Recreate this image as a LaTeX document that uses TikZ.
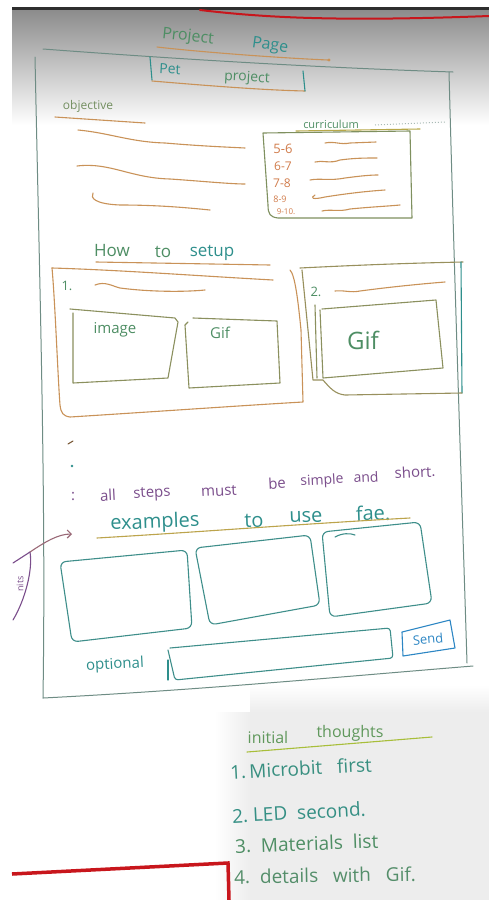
\documentclass[tikz,border=0pt]{standalone}
\usepackage{fontspec}
\setmainfont{Open Sans}
\usetikzlibrary{arrows.meta}
\definecolor{framegray}{HTML}{6E8C84}
\definecolor{inkbrown}{HTML}{C99258}
\definecolor{inkgreen}{HTML}{4E8E64}
\definecolor{inkteal}{HTML}{2E8F8C}
\definecolor{inkpurple}{HTML}{7B4E8C}
\definecolor{inkblue}{HTML}{2C86C4}
\definecolor{inkred}{HTML}{C8161C}
\definecolor{inkolive}{HTML}{A8BE3A}
\definecolor{bandgray}{HTML}{2E2E2E}
\newcommand\fsz[1]{\fontsize{#1}{#1}\selectfont}
\begin{document}
\begin{tikzpicture}[x=1pt,y=-1pt,
  pen/.style={line width=1.1pt, line cap=round, line join=round},
  frameline/.style={pen, draw=framegray, line width=1pt},
  brownline/.style={pen, draw=inkbrown},
  hand/.style={inner sep=0pt, text=#1},
  listitem/.style={inner sep=0pt, anchor=west, font=\fsz{19}},
  tealbox/.style={pen, draw=inkteal!75!framegray, rounded corners=6pt}]
\useasboundingbox (0,0) rectangle (489,900);
\fill[white] (0,0) rectangle (489,900);

% scanned paper: dark strip and shadow at the top, grey patch at the bottom
\fill[bandgray] (12,7) rectangle (489,10);
\shade[top color=black!45, bottom color=white] (12,10) rectangle (489,125);
\fill[black!7] (250,712) rectangle (489,900);
\shade[left color=white, right color=black!7] (215,712) rectangle (250,900);
\shade[top color=white, bottom color=black!7] (250,685) rectangle (489,712);
\draw[inkred, line width=2pt, line cap=round] (200,10) .. controls (260,17) and (330,22) .. (489,16);

% outer page frame
\draw[frameline] (43,49) .. controls (150,57) and (300,67) .. (453,72);
\draw[frameline] (35,57) .. controls (40,300) and (46,500) .. (43,698);
\draw[frameline] (449,72) .. controls (455,300) and (462,500) .. (467,663);
\draw[frameline] (43,698) .. controls (200,690) and (350,676) .. (473,666);

% title
\node[hand=inkgreen, font=\fsz{16}, rotate=-6] (titleA) at (188,37) {Project};
\node[hand=inkteal, font=\fsz{16}, rotate=-8] (titleB) at (270,46) {Page};
\draw[brownline] (157,47) .. controls (200,52) and (280,58) .. (328,60);
\fill[inkbrown] (329,60) circle (1.6);

% project tab
\draw[pen, draw=inkteal] (150,57) -- (152,80);
\draw[brownline] (152,81) .. controls (200,85) and (260,90) .. (305,91);
\draw[pen, draw=inkteal] (303,71) -- (305,91);
\node[hand=inkteal, font=\fsz{14}, rotate=-3] (pet) at (170,69) {Pet};
\node[hand=inkgreen, font=\fsz{14}, rotate=-3] (petproj) at (247,78) {project};

% objective
\node[hand=inkgreen!70!inkbrown, font=\fsz{12}] (objective) at (88,106) {objective};
\draw[brownline] (55,117) -- (145,123);
\draw[brownline] (78,130) .. controls (110,133) and (130,142) .. (165,143) .. controls (200,146) and (225,147) .. (245,148);
\draw[brownline] (77,166) .. controls (110,162) and (130,178) .. (170,179) .. controls (200,181) and (230,184) .. (245,184);
\draw[brownline] (93,193) .. controls (90,198) and (95,204) .. (120,205) .. controls (160,205) and (190,208) .. (210,210);

% curriculum
\node[hand=inkgreen, font=\fsz{11}] (curr) at (331,124) {curriculum};
\draw[framegray!60, dotted, line width=1pt] (375,125) -- (445,122);
\draw[pen, draw=inkolive!50!inkbrown] (296,131) -- (420,129);
\draw[pen, draw=inkgreen!60!inkbrown] (263,133) -- (410,131) -- (412,218) -- (278,218) .. controls (270,217) and (268,214) .. (268,205) -- cycle;
\node[hand=inkbrown!85!red, font=\fsz{13}] (r1) at (283,149) {5-6};
\node[hand=inkbrown!85!red, font=\fsz{12}] (r2) at (283,166) {6-7};
\node[hand=inkbrown!85!red, font=\fsz{12}] (r3) at (282,183) {7-8};
\node[hand=inkbrown!85!red, font=\fsz{9}] (r4) at (280,199) {8-9};
\node[hand=inkbrown!85!red, font=\fsz{8}] (r5) at (286,212) {9-10.};
\draw[brownline] (325,143) .. controls (335,141) and (340,145) .. (350,143) -- (376,142);
\draw[brownline] (315,162) .. controls (322,160) and (330,164) .. (340,160) .. controls (355,158) and (365,158) .. (377,158);
\draw[brownline] (310,180) .. controls (320,178) and (330,181) .. (345,178) .. controls (360,176) and (370,175) .. (378,175);
\draw[brownline] (315,195) .. controls (310,198) and (312,200) .. (325,197) .. controls (350,193) and (370,191) .. (385,190);
\draw[brownline] (322,211) .. controls (330,209) and (340,212) .. (350,209) .. controls (370,207) and (390,206) .. (400,205);

% how to setup
\node[hand=inkgreen, font=\fsz{17}] (how) at (112,251) {How};
\node[hand=inkgreen, font=\fsz{17}] (howto) at (163,252) {to};
\node[hand=inkteal, font=\fsz{17}] (howsetup) at (212,253) {setup};
\draw[brownline] (96,262) -- (270,265);

% step 1 panel
\draw[brownline] (52,268) .. controls (120,270) and (200,276) .. (273,280);
\draw[brownline] (52,268) .. controls (55,300) and (58,380) .. (60,405) .. controls (61,413) and (63,416) .. (70,417) .. controls (150,412) and (250,405) .. (303,402) -- (301,330) .. controls (298,300) and (295,275) .. (290,270);
\node[hand=inkgreen, font=\fsz{13}] (one) at (67,286) {1.};
\draw[brownline] (95,285) .. controls (105,281) and (112,286) .. (120,288) .. controls (150,292) and (185,292) .. (205,290);
\draw[pen, draw=inkgreen!50!inkbrown] (70,309) -- (175,318) -- (178,322) -- (168,378) -- (73,383) -- (73,313);
\node[hand=inkgreen, font=\fsz{15}] (imagelbl) at (115,330) {image};
\draw[pen, draw=inkgreen!50!inkbrown] (193,318) -- (277,321) -- (280,383) -- (189,388) -- (185,325) -- (188,322);
\node[hand=inkgreen, font=\fsz{15}] (gifA) at (220,333) {Gif};

% step 2 panel
\draw[pen, draw=inkgreen!40!inkbrown] (300,268) .. controls (380,264) and (420,263) .. (463,262);
\draw[pen, draw=inkteal] (461,262) -- (462,393);
\draw[pen, draw=inkgreen!40!inkbrown] (462,393) -- (345,395) .. controls (335,394) and (330,388) .. (323,380) -- (313,380) -- (302,270);
\node[hand=inkgreen, font=\fsz{13}] (two) at (316,292) {2.};
\draw[brownline] (335,291) .. controls (345,290) and (350,293) .. (360,291) .. controls (390,287) and (420,284) .. (445,282);
\draw[pen, draw=inkgreen!50!inkbrown] (322,309) -- (436,300) -- (443,368) -- (323,378) -- (320,310);
\draw[pen, draw=inkgreen!50!inkbrown] (315,305) -- (317,378);
\node[hand=inkgreen, font=\fsz{24}] (gifB) at (363,340) {Gif};

% notes
\draw[pen, draw=inkbrown!60!black] (68,444) -- (73,441);
\fill[inkteal] (72,466) circle (1.3);
\node[hand=inkpurple, font=\fsz{15}] (colon) at (73,496) {:};
\node[hand=inkpurple, font=\fsz{15}, rotate=3] (wA) at (108,495) {all};
\node[hand=inkpurple, font=\fsz{15}, rotate=3] (wB) at (152,494) {steps};
\node[hand=inkpurple, font=\fsz{15}, rotate=3] (wC) at (219,491) {must};
\node[hand=inkpurple, font=\fsz{15}, rotate=3] (wD) at (277,483) {be};
\node[hand=inkpurple, font=\fsz{14}, rotate=3] (wE) at (322,481) {simple};
\node[hand=inkpurple, font=\fsz{14}, rotate=3] (wF) at (366,477) {and};
\node[hand=inkpurple, font=\fsz{15}, rotate=3] (wG) at (415,472) {short.};

% examples
\node[hand=inkteal, font=\fsz{20}, rotate=2] (exA) at (155,523) {examples};
\node[hand=inkteal, font=\fsz{20}, rotate=2] (exB) at (254,521) {to};
\node[hand=inkteal, font=\fsz{20}, rotate=2] (exC) at (306,517) {use};
\node[hand=inkteal, font=\fsz{20}, rotate=2] (exD) at (373,513) {fae.};
\draw[pen, draw=inkolive!40!inkbrown] (97,538) .. controls (200,532) and (300,524) .. (410,518);

% side remark with arrow
\node[hand=inkpurple, font=\fsz{9}, rotate=90] (side) at (20,584) {nits};
\coordinate (arcbot) at (13,620);
\coordinate (arctop) at (30,552);
\coordinate (arcleft) at (13,563);
\coordinate (arrowend) at (72,534);
\draw[pen, draw=inkpurple] (arcbot) .. controls (25,600) and (33,570) .. (arctop);
\draw[pen, draw=inkpurple] (arcleft) -- (arctop);
\draw[pen, draw=inkpurple!60!inkbrown, -{Straight Barb[length=4pt,width=8pt]}] (arctop) .. controls (45,542) and (58,534) .. (arrowend);

% example tiles
\draw[tealbox] (60,562) -- (187,550) -- (192,628) -- (72,642) -- cycle;
\draw[tealbox] (195,548) -- (310,535) -- (320,605) -- (210,625) -- cycle;
\draw[tealbox] (322,532) -- (420,522) -- (432,603) -- (330,617) -- cycle;
\draw[pen, draw=inkteal!75!framegray] (335,537) .. controls (342,533) and (350,533) .. (355,535);

% input row
\draw[pen, draw=inkteal!75!framegray, rounded corners=3pt] (170,648) -- (390,628) -- (393,658) -- (175,680) -- (168,650);
\draw[pen, draw=inkteal] (168,660) -- (168,680);
\node[hand=inkteal, font=\fsz{15}, rotate=3] (optional) at (115,665) {optional};
\draw[pen, draw=inkblue] (402,632) -- (450,620) -- (455,648) -- (403,656) -- cycle;
\node[hand=inkblue, font=\fsz{13}, rotate=5] (send) at (428,639) {Send};

% initial thoughts list
\node[hand=inkgreen!80!inkolive, font=\fsz{16}] (itA) at (268,737) {initial};
\node[hand=inkgreen!80!inkolive, font=\fsz{16}] (itB) at (350,733) {thoughts};
\draw[pen, draw=inkolive] (247,752) -- (432,737);
\node[listitem, text=inkteal!70!inkgreen, rotate=3] (l1) at (230,772) {1.\,Microbit\ \ \ first};
\node[listitem, text=inkteal!80!inkgreen, rotate=3] (l2) at (232,816) {2.\ LED\ \ second.};
\node[listitem, text=inkgreen, rotate=2] (l3) at (235,846) {3.\ \ Materials\ \ list};
\node[listitem, text=inkgreen!80!framegray, rotate=1] (l4) at (234,877) {4.\ \ details\ \ \ with\ \ \ Gif.};

% red edge of the sheet below
\draw[inkred, line width=3.5pt] (12,874) -- (228,863) -- (229,900);
\end{tikzpicture}
\end{document}
